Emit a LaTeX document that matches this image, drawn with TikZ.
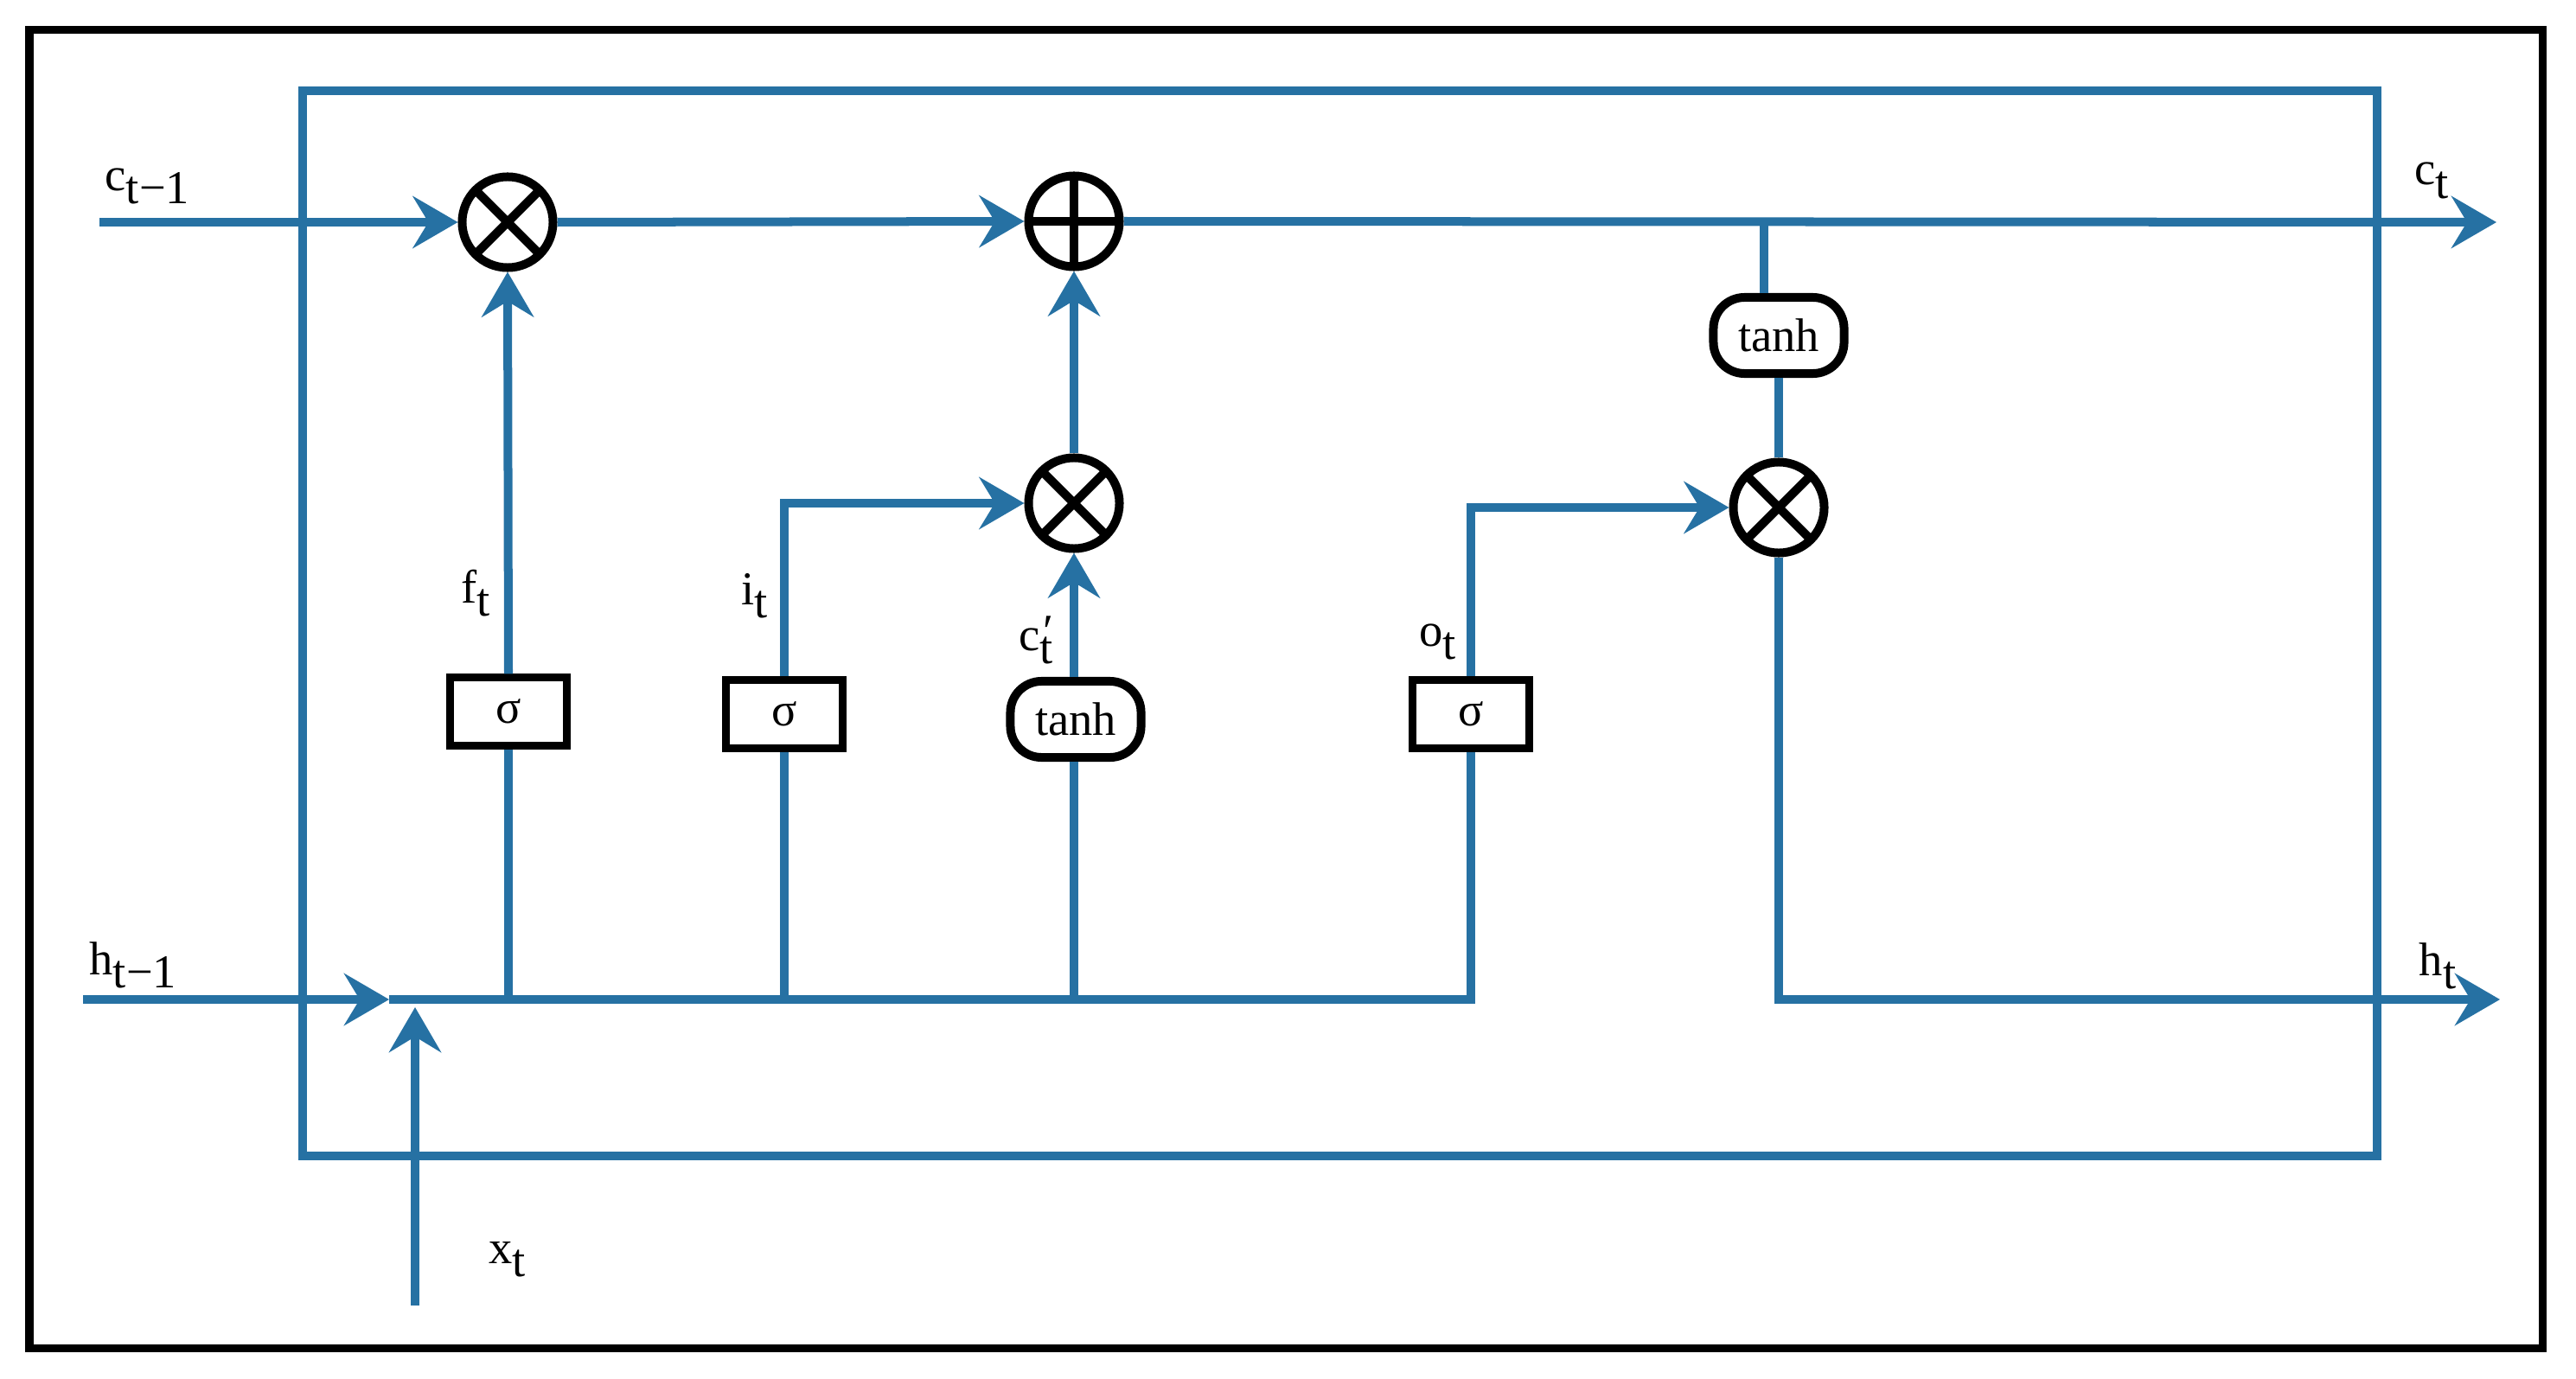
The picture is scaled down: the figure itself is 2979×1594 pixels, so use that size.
\documentclass[tikz,border=0pt]{standalone}
\usepackage{fontspec}
\setmainfont{Liberation Serif}
\usetikzlibrary{arrows.meta}
\definecolor{lstmblue}{RGB}{38,113,163}
\newcommand{\sbt}[1]{\raisebox{-4.5pt}{#1}}
\begin{document}
\begin{tikzpicture}[x=0.01cm,y=-0.01cm,
  wire/.style={draw=lstmblue, line width=1mm},
  arr/.style={wire, -{Stealth[length=5.2mm,width=6mm,inset=1.8mm]}},
  opnode/.style={circle, draw=black, line width=1mm, minimum size=1.05cm, inner sep=0pt, fill=white},
  mult/.style={opnode, path picture={\draw[line width=1mm]
      (path picture bounding box.north west) -- (path picture bounding box.south east)
      (path picture bounding box.north east) -- (path picture bounding box.south west);}},
  addn/.style={opnode, path picture={\draw[line width=1mm]
      (path picture bounding box.north) -- (path picture bounding box.south)
      (path picture bounding box.west) -- (path picture bounding box.east);}},
  sigbox/.style={rectangle, draw=black, line width=0.9mm, fill=white, minimum width=1.34cm,
      minimum height=0.78cm, inner sep=0pt, font=\rmfamily\fontsize{15.5}{16}\selectfont},
  tanhbox/.style={rectangle, rounded corners=3.6mm, draw=black, line width=1mm, fill=white,
      minimum width=1.51cm, minimum height=0.88cm, inner sep=0pt, font=\rmfamily\fontsize{15.5}{16}\selectfont},
  lbl/.style={inner sep=0pt, anchor=base west, font=\rmfamily\fontsize{15.5}{18}\selectfont}]
\useasboundingbox (0,0) rectangle (2979,1594);
% frames
\draw[black, line width=0.9mm] (34,35) rectangle (2940,1559);
\draw[wire] (350,105) rectangle (2749,1337);
% nodes
\node[mult] (m1) at (587,257) {};
\node[addn] (ad) at (1242,256) {};
\node[mult] (m2) at (1242,582) {};
\node[mult] (m3) at (2057,587) {};
\node[sigbox] (sf) at (588,823) {σ};
\node[sigbox] (si) at (907,826) {σ};
\node[sigbox] (so) at (1701,826) {σ};
\node[tanhbox] (tc) at (1244,832) {tanh};
\node[tanhbox] (th) at (2057,388) {tanh};
% coordinates
\coordinate (cin) at (115,257);
\coordinate (cout) at (2887,257);
\coordinate (tb) at (2040,257);
\coordinate (hin) at (96,1156);
\coordinate (hjoin) at (450,1156);
\coordinate (ocor) at (1701,1156);
\coordinate (hout) at (2891,1156);
\coordinate (xin) at (480,1510);
\coordinate (xtip) at (480,1165);
% cell state line
\draw[arr] (cin) -- (m1.west);
\draw[arr] (m1.east) -- (ad.west);
\draw[arr] (ad.east) -- (cout);
% hidden / input line
\draw[arr] (hin) -- (hjoin);
\draw[wire] (hjoin) -- (ocor) -- (so.south);
\draw[arr] (xin) -- (xtip);
% forget gate
\draw[wire] (sf.south |- hjoin) -- (sf.south);
\draw[arr] (sf.north) -- (m1.south);
% input gate
\draw[wire] (si.south |- hjoin) -- (si.south);
\draw[arr] (si.north) |- (m2.west);
% candidate
\draw[wire] (m2.south |- hjoin) -- (m2.south |- tc.south);
\draw[arr] (m2.south |- tc.north) -- (m2.south);
\draw[arr] (m2.north) -- (ad.south);
% output gate
\draw[arr] (so.north) |- (m3.west);
\draw[wire] (tb) -- (tb |- th.north);
\draw[wire] (th.south) -- (m3.north);
\draw[arr] (m3.south) |- (hout);
% labels
\node[lbl] (lc) at (121,220) {c\sbt{t−1}};
\node[lbl] (lh) at (103,1127) {h\sbt{t−1}};
\node[lbl] (lf) at (533,697) {f\sbt{t}};
\node[lbl] (li) at (857,699) {i\sbt{t}};
\node[lbl] (lcp) at (1178,752) {c\rlap{\raisebox{1pt}{\kern1pt ′}}\sbt{t}};
\node[lbl] (lo) at (1641,747) {o\sbt{t}};
\node[lbl] (lx) at (565,1461) {x\sbt{t}};
\node[lbl] (lct) at (2792,214) {c\sbt{t}};
\node[lbl] (lht) at (2797,1128) {h\sbt{t}};
\end{tikzpicture}
\end{document}
